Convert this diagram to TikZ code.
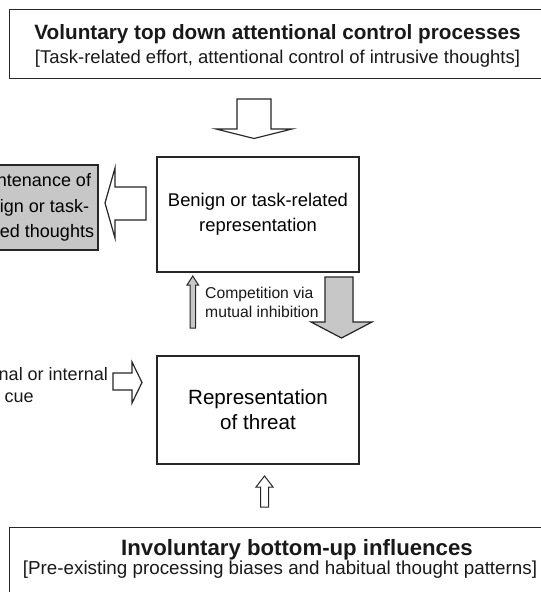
\documentclass[tikz,border=0pt]{standalone}
\usepackage{fontspec}
\setmainfont{Liberation Sans}
\definecolor{linec}{gray}{0.15}
\definecolor{fillg}{gray}{0.78}
\tikzset{
  box/.style={draw=linec, line width=1.3pt, inner sep=0pt},
  hollowarrow/.style={draw=linec, line width=1.2pt, fill=white, line join=miter},
  grayarrow/.style={draw=linec, line width=1.2pt, fill=fillg, line join=miter},
  txt/.style={inner sep=0pt, text=black!90},
}
\begin{document}
\begin{tikzpicture}[x=1pt,y=-1pt]
\useasboundingbox (0,0) rectangle (541,592);
\clip (0,0) rectangle (541,592);
\fill[white] (0,0) rectangle (541,592);

% top box
\node[box, anchor=north west, minimum width=600pt, minimum height=69pt] (top) at (8.5,9) {};
\node[txt, anchor=base, font=\bfseries\fontsize{20.7}{24}\selectfont] (toptitle) at (277.5,39) {Voluntary top down attentional control processes};
\node[txt, anchor=base, font=\fontsize{18.5}{22}\selectfont] (topsub) at (277.5,63) {[Task-related effort, attentional control of intrusive thoughts]};

% benign box
\node[box, minimum width=202pt, minimum height=115pt, align=center, font=\fontsize{18.4}{25}\selectfont] (benign) at (258,214.5) {Benign or task-related\\representation};

% maintenance box
\node[box, fill=fillg, minimum width=137pt, minimum height=85pt, align=center, font=\fontsize{18}{25.5}\selectfont] (maint) at (29.5,207.5) {Maintenance of\\benign or task-\\related thoughts};

% threat box
\node[box, minimum width=202pt, minimum height=108pt, align=center, font=\fontsize{20.6}{25}\selectfont] (threat) at (258,410) {Representation\\of threat};

% bottom box
\node[box, anchor=north west, minimum width=600pt, minimum height=100pt] (bottom) at (9,527) {};
\node[txt, anchor=base, font=\bfseries\fontsize{22.2}{26}\selectfont] (bottitle) at (297,555) {Involuntary bottom-up influences};
\node[txt, anchor=base, font=\fontsize{18.8}{22}\selectfont] (botsub) at (280,574) {[Pre-existing processing biases and habitual thought patterns]};

% competition label
\node[txt, anchor=base west, font=\fontsize{15.7}{19}\selectfont] (comp) at (205,298) {\begin{tabular}[t]{@{}l@{}}Competition via\\mutual inhibition\end{tabular}};

% external cue label
\node[txt, anchor=base east, font=\fontsize{18}{22}\selectfont] (ext) at (108,380) {\begin{tabular}[t]{@{}l@{}}External or internal\\\hspace*{48pt}cue\end{tabular}};

% top hollow arrow (top box -> benign)
\draw[hollowarrow] (237,99) -- (271,99) -- (271,129) -- (292,129) -- (254,138.5) -- (216,129) -- (237,129) -- cycle;

% left hollow arrow (benign -> maintenance)
\draw[hollowarrow] (146,187) -- (146,220) -- (115,220) -- (115,238) -- (105,203) -- (115,168) -- (115,187) -- cycle;

% thin gray up arrow (threat -> benign)
\draw[grayarrow, line width=1pt] (190,328) -- (195.5,328) -- (195.5,285) -- (198.5,285) -- (192.75,276) -- (187,285) -- (190,285) -- cycle;

% big gray down arrow (benign -> threat)
\draw[grayarrow] (325,277) -- (353,277) -- (353,322) -- (372,322) -- (341.5,338) -- (311,322) -- (325,322) -- cycle;

% external cue arrow
\draw[hollowarrow] (113,373) -- (132,373) -- (132,362) -- (142,382.5) -- (132,403) -- (132,390) -- (113,390) -- cycle;

% bottom hollow up arrow (bottom box -> threat)
\draw[hollowarrow, line width=1pt] (260.5,507) -- (268.5,507) -- (268.5,487) -- (273,487) -- (264.5,476) -- (256,487) -- (260.5,487) -- cycle;
\end{tikzpicture}
\end{document}
